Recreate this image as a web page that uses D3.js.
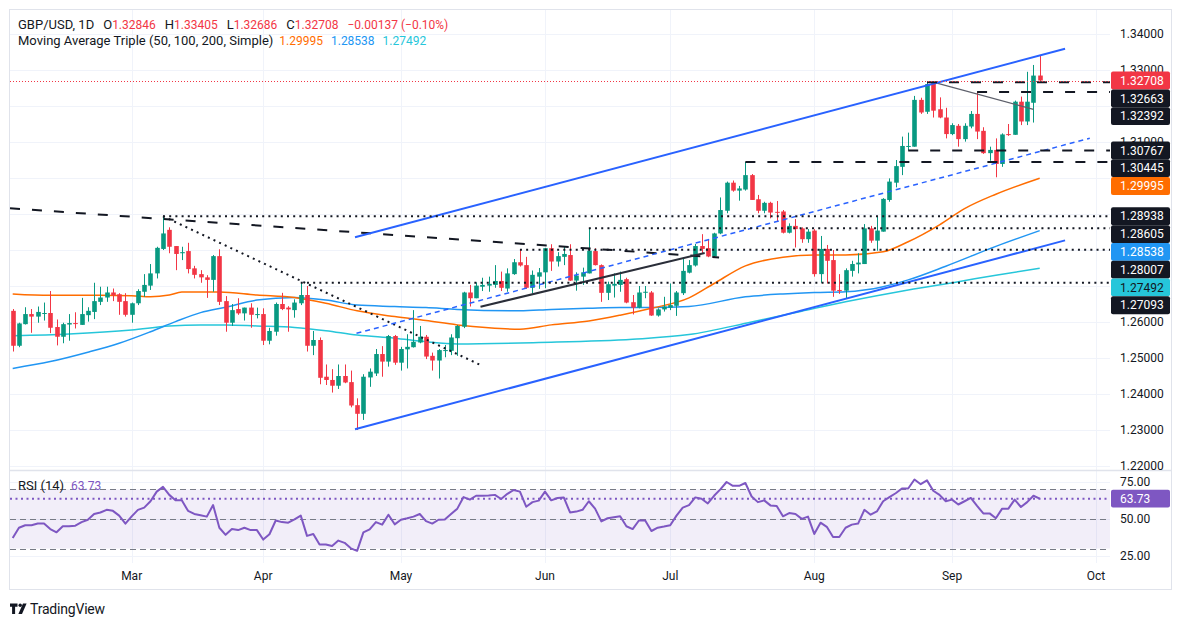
<!DOCTYPE html>
<html>
<head>
<meta charset="utf-8">
<script src="https://cdn.jsdelivr.net/npm/d3@7"></script>
<style>
  body { margin: 0; background: #fff; }
  svg { display: block; font-family: Roboto, "Noto Sans", sans-serif; }
</style>
</head>
<body>
<div id="chart"></div>
<script>
// GBP/USD daily candles (bar 1 = early Feb, bar 165 = last bar)
const opens = [
  1.2631,1.2534,1.2594,1.2622,1.2615,1.2623,1.2625,1.2586,1.2559,1.2593,
  1.2597,1.2592,1.2619,1.2628,1.2656,1.2668,1.2682,1.2677,1.2658,1.2620,
  1.2652,1.2684,1.2701,1.2735,1.2803,1.2856,1.2811,1.2791,1.2797,1.2749,
  1.2733,1.2724,1.2717,1.2783,1.2658,1.2598,1.2636,1.2624,1.2640,1.2620,
  1.2622,1.2548,1.2573,1.2650,1.2640,1.2633,1.2652,1.2675,1.2534,1.2550,
  1.2448,1.2439,1.2423,1.2450,1.2433,1.2369,1.2345,1.2446,1.2457,1.2511,
  1.2490,1.2561,1.2487,1.2524,1.2530,1.2543,1.2559,1.2506,1.2493,1.2520,
  1.2520,1.2555,1.2587,1.2682,1.2666,1.2698,1.2701,1.2703,1.2714,1.2693,
  1.2733,1.2766,1.2758,1.2695,1.2726,1.2738,1.2805,1.2768,1.2781,1.2786,
  1.2715,1.2726,1.2735,1.2797,1.2758,1.2681,1.2701,1.2703,1.2719,1.2655,
  1.2640,1.2682,1.2682,1.2618,1.2635,1.2640,1.2645,1.2680,1.2737,1.2757,
  1.2811,1.2805,1.2782,1.2846,1.2909,1.2987,1.2965,1.2968,1.3008,1.2941,
  1.2909,1.2931,1.2906,1.2907,1.2848,1.2867,1.2860,1.2830,1.2854,1.2733,
  1.2803,1.2772,1.2689,1.2687,1.2742,1.2760,1.2761,1.2860,1.2826,1.2851,
  1.2939,1.2987,1.3031,1.3087,1.3087,1.3217,1.3184,1.3265,1.3191,1.3168,
  1.3122,1.3145,1.3108,1.3143,1.3178,1.3131,1.3069,1.3078,1.3039,1.3122,
  1.3120,1.3212,1.3157,1.3209,1.32846
];
const highs = [
  1.2636,1.2598,1.2641,1.2636,1.2643,1.2654,1.2686,1.2607,1.2598,1.2622,
  1.2627,1.2667,1.2641,1.2709,1.2698,1.2698,1.2693,1.2680,1.2680,1.2654,
  1.2691,1.2733,1.2761,1.2809,1.28938,1.2863,1.2811,1.2809,1.2820,1.2756,
  1.2744,1.2730,1.2786,1.2802,1.2672,1.2650,1.2666,1.2640,1.2652,1.2640,
  1.2638,1.2584,1.2654,1.2681,1.2644,1.2663,1.27093,1.2700,1.2575,1.2557,
  1.2482,1.2469,1.2482,1.2482,1.2465,1.2388,1.2455,1.2471,1.2525,1.2533,
  1.2564,1.2564,1.2531,1.2566,1.2633,1.2589,1.2564,1.2515,1.2525,1.2536,
  1.2566,1.2592,1.2684,1.2703,1.2710,1.2723,1.2726,1.2758,1.2740,1.2749,
  1.2775,1.28007,1.2781,1.2743,1.2750,1.2806,1.2816,1.2794,1.2809,1.2816,
  1.2738,1.2751,1.28605,1.2805,1.2760,1.2712,1.2735,1.2740,1.2723,1.2675,
  1.2700,1.2700,1.2686,1.2638,1.2670,1.2707,1.2686,1.2777,1.2772,1.2817,
  1.2844,1.2828,1.2848,1.2946,1.2990,1.2993,1.2978,1.30445,1.3011,1.2953,
  1.2934,1.2934,1.2936,1.2911,1.2874,1.2886,1.2863,1.2858,1.2858,1.2839,
  1.2814,1.2800,1.2733,1.2749,1.2770,1.2791,1.2872,1.2867,1.2893,1.2944,
  1.2999,1.3050,1.3115,1.3126,1.3228,1.3223,1.32663,1.3266,1.3224,1.3195,
  1.3152,1.3150,1.3152,1.3186,1.32392,1.3141,1.3087,1.3110,1.3124,1.3150,
  1.3215,1.3226,1.3295,1.3314,1.33405
];
const lows = [
  1.2518,1.2530,1.2593,1.2570,1.2598,1.2604,1.2569,1.2535,1.2541,1.2548,
  1.2582,1.2592,1.2601,1.2608,1.2647,1.2656,1.2658,1.2620,1.2615,1.2598,
  1.2647,1.2670,1.2689,1.2721,1.2800,1.2791,1.2744,1.2772,1.2735,1.2721,
  1.2709,1.2667,1.2684,1.2647,1.2573,1.2589,1.2620,1.2604,1.2584,1.2610,
  1.2536,1.2538,1.2562,1.2633,1.2573,1.2612,1.2647,1.2518,1.2508,1.2427,
  1.2425,1.2404,1.2414,1.2430,1.2363,1.2300,1.2328,1.2420,1.2450,1.2448,
  1.2476,1.2481,1.2465,1.2471,1.2529,1.2541,1.2497,1.2465,1.2443,1.2502,
  1.2508,1.2506,1.2583,1.2643,1.2666,1.2686,1.2684,1.2695,1.2686,1.2684,
  1.2731,1.2754,1.2692,1.2680,1.2692,1.2694,1.2742,1.2754,1.2758,1.2714,
  1.2687,1.2703,1.2735,1.2757,1.2656,1.2661,1.2668,1.2684,1.2652,1.2621,
  1.2638,1.2666,1.2617,1.2615,1.2629,1.2633,1.2617,1.2675,1.2735,1.2754,
  1.2791,1.2780,1.2780,1.2844,1.2902,1.2962,1.2937,1.2965,1.2939,1.2902,
  1.2902,1.2888,1.2879,1.2846,1.2846,1.2807,1.2820,1.2820,1.2726,1.2709,
  1.2707,1.2670,1.2678,1.2666,1.2726,1.2735,1.2761,1.2820,1.2798,1.2851,
  1.2934,1.2974,1.3008,1.30767,1.3087,1.3178,1.3178,1.3168,1.3166,1.3110,
  1.3119,1.3087,1.3101,1.3138,1.3108,1.3067,1.3048,1.3002,1.3031,1.3117,
  1.3120,1.3147,1.3147,1.3154,1.32686
];
const closes = [
  1.2534,1.2596,1.2622,1.2615,1.2628,1.2625,1.2584,1.2559,1.2594,1.2597,
  1.2596,1.2622,1.2631,1.2658,1.2668,1.2682,1.2674,1.2656,1.2620,1.2652,
  1.2686,1.2703,1.2735,1.2806,1.2846,1.2809,1.2789,1.2794,1.2747,1.2731,
  1.2724,1.2717,1.2783,1.2656,1.2598,1.2633,1.2624,1.2640,1.2620,1.2622,
  1.2548,1.2575,1.2650,1.2636,1.2635,1.2654,1.2675,1.2534,1.2550,1.2445,
  1.2439,1.2423,1.2450,1.2432,1.2368,1.2345,1.2448,1.2462,1.2511,1.2490,
  1.2561,1.2487,1.2525,1.2531,1.2545,1.2559,1.2504,1.2493,1.2522,1.2522,
  1.2557,1.2589,1.2682,1.2666,1.2701,1.2703,1.2706,1.2714,1.2695,1.2735,
  1.2766,1.2757,1.2695,1.2731,1.2738,1.2805,1.2768,1.2783,1.2789,1.2715,
  1.2729,1.2738,1.2798,1.2758,1.2681,1.2705,1.2706,1.2717,1.2654,1.2640,
  1.2682,1.2684,1.2618,1.2635,1.2643,1.2647,1.2682,1.2742,1.2758,1.2811,
  1.2803,1.2782,1.2846,1.2911,1.2987,1.2965,1.2971,1.3008,1.2939,1.2909,
  1.2931,1.2904,1.2904,1.2848,1.2867,1.2858,1.2830,1.2851,1.2733,1.2803,
  1.2770,1.2687,1.2687,1.2744,1.2761,1.2765,1.2860,1.2826,1.2854,1.2942,
  1.2990,1.3033,1.3089,1.3089,1.3217,1.3182,1.3261,1.3187,1.3168,1.3122,
  1.3147,1.3108,1.3145,1.3178,1.3129,1.3069,1.3078,1.3039,1.3121,1.3120,
  1.3212,1.3157,1.3212,1.32845,1.32708
];

// RSI(14), one value per bar
const rsi = [
  37.1,44.1,45.8,45.8,46.9,46.9,43.2,41.0,45.1,45.1,
  45.5,47.9,49.5,53.4,54.4,56.2,55.5,52.3,46.9,51.8,
  56.2,57.7,62.0,68.5,71.7,66.3,62.6,62.6,55.5,53.4,
  52.5,51.6,59.4,44.1,39.3,43.2,42.5,44.1,42.5,42.5,
  36.1,39.7,49.0,47.9,47.5,49.7,52.3,38.6,39.9,32.8,
  32.8,31.7,35.4,33.9,30.2,28.5,41.0,43.0,47.9,46.2,
  52.9,46.4,49.5,50.5,51.6,53.4,48.6,46.9,49.5,49.7,
  53.4,57.0,64.8,63.1,65.7,65.7,65.9,66.3,63.5,67.0,
  69.6,68.5,58.3,61.4,62.4,68.5,62.6,64.2,64.6,54.4,
  55.0,56.2,62.0,57.0,48.4,50.5,51.2,51.8,45.1,43.2,
  49.0,49.0,41.9,44.1,44.9,45.8,52.3,57.7,59.4,64.6,
  63.7,60.5,65.7,70.0,75.0,72.4,72.4,74.3,65.2,61.4,
  62.6,59.2,58.8,51.8,54.0,53.4,50.1,51.6,39.9,47.5,
  44.7,37.8,37.8,44.1,46.2,46.9,56.2,52.9,55.1,62.0,
  64.8,67.4,70.6,70.6,76.7,73.5,76.1,69.1,66.3,62.0,
  63.1,59.8,62.0,64.2,58.8,53.8,53.8,50.5,57.0,57.0,
  63.1,58.1,61.4,65.7,63.73
];

// moving averages read at points: [bar, value]
const sma50 = [
  [1,1.2678],[7,1.2674],[15,1.2674],[20,1.2673],[23,1.2670],[26,1.2675],[28,1.2683],
  [34,1.2683],[40,1.2675],[46,1.2668],[51,1.2652],[56,1.2631],[62,1.2615],[67,1.2604],
  [72,1.2592],[77,1.2584],[82,1.2580],[87,1.2592],[93,1.2603],[98,1.2619],[103,1.2638],
  [109,1.2667],[113,1.2707],[118,1.2756],[124,1.2780],[129,1.2786],[134,1.2786],
  [140,1.2795],[144,1.2823],[149,1.2870],[153,1.2915],[158,1.2955],[165,1.29995]
];
const sma100 = [
  [1,1.2471],[7,1.2490],[13,1.2516],[18,1.2541],[23,1.2573],[27,1.2601],[31,1.2626],
  [35,1.2641],[40,1.2661],[46,1.2668],[51,1.2661],[56,1.2647],[62,1.2643],[67,1.2640],
  [72,1.2635],[82,1.2631],[87,1.2635],[93,1.2638],[98,1.2640],[103,1.2640],[109,1.2643],
  [118,1.2670],[124,1.2678],[129,1.2682],[134,1.2684],[140,1.2698],[144,1.2717],
  [150,1.2755],[158,1.2810],[165,1.28538]
];
const sma200 = [
  [1,1.2562],[10,1.2567],[20,1.2578],[26,1.2589],[31,1.2592],[35,1.2592],[40,1.2589],
  [46,1.2585],[51,1.2576],[56,1.2564],[62,1.2555],[67,1.2545],[72,1.2539],[85,1.2543],
  [100,1.2552],[109,1.2565],[119,1.2600],[127,1.2630],[134,1.2656],[144,1.2689],
  [152,1.2712],[158,1.2730],[165,1.27492]
];

const monthLabels = ["Mar", "Apr", "May", "Jun", "Jul", "Aug", "Sep", "Oct"];
const monthStarts = [20, 41, 63, 86, 106, 129, 151, 174];
const priceTicks = [1.22, 1.23, 1.24, 1.25, 1.26, 1.27, 1.28, 1.29, 1.30, 1.31, 1.32, 1.33, 1.34];
const rsiTicks = [75, 50, 25];

// drawings: [bar, price] end points
const channelUpper = [[55.66, 1.28352], [169.05, 1.33589]];
const channelLower = [[55.66, 1.23019], [169.05, 1.28267]];
const channelMid = [[55.9, 1.25685], [173.0, 1.31106]];
const dashedTrend = [[0.57, 1.29158], [113.8, 1.27792]];
const dottedTrend = [[25, 1.28938], [75.6, 1.24814]];
const risingTrend = [[75.7, 1.26425], [111.5, 1.27917]];
const thinTrend = [[148, 1.32663], [164, 1.31907]];
// horizontal levels: [price, first bar]
const dashedLevels = [[1.32663, 147], [1.32392, 155], [1.30767, 144], [1.30445, 118]];
const dottedLevels = [[1.28938, 25], [1.28605, 93], [1.28007, 82], [1.27093, 47]];

const W = 1183, H = 628;
const paneL = 10, paneR = 1110, mainT = 10, mainB = 470, rsiT = 471, rsiB = 563;
const up = "#089981", down = "#f23645", ink = "#131722";
const col50 = "#ff6d00", col100 = "#2196f3", col200 = "#26c6da", rsiCol = "#7e57c2";

const svg = d3.select("#chart").append("svg")
  .attr("width", W)
  .attr("height", H);

const x = d3.scaleLinear().domain([1, 165]).range([12.7, 1039.7]);
const y = d3.scaleLinear().domain([1.22, 1.34]).range([466, 34]);
const yR = d3.scaleLinear().domain([25, 75]).range([556, 482]);

const defs = svg.append("defs");
defs.append("clipPath").attr("id", "mainClip").append("rect")
  .attr("x", paneL).attr("y", mainT).attr("width", paneR - paneL).attr("height", mainB - mainT);
defs.append("clipPath").attr("id", "rsiClip").append("rect")
  .attr("x", paneL).attr("y", rsiT).attr("width", paneR - paneL).attr("height", rsiB - rsiT);
defs.append("clipPath").attr("id", "axisClip").append("rect")
  .attr("x", paneR).attr("y", mainT).attr("width", W - paneR).attr("height", mainB - mainT);

// grid
const grid = svg.append("g").attr("stroke", "#f0f3fa").attr("stroke-width", 1);
grid.selectAll("line.h").data(priceTicks).join("line")
  .attr("x1", paneL).attr("x2", paneR)
  .attr("y1", d => Math.round(y(d)) + 0.5).attr("y2", d => Math.round(y(d)) + 0.5);
grid.selectAll("line.r").data(rsiTicks).join("line")
  .attr("x1", paneL).attr("x2", paneR)
  .attr("y1", d => Math.round(yR(d)) + 0.5).attr("y2", d => Math.round(yR(d)) + 0.5);
grid.selectAll("line.v").data(monthStarts).join("line")
  .attr("x1", d => Math.round(x(d)) + 0.5).attr("x2", d => Math.round(x(d)) + 0.5)
  .attr("y1", mainT).attr("y2", rsiB);

// frame and pane separator
svg.append("rect")
  .attr("x", 9.5).attr("y", 9.5).attr("width", 1162).attr("height", 580)
  .attr("fill", "none").attr("stroke", "#e0e3eb");
svg.append("line")
  .attr("x1", paneL).attr("x2", 1172).attr("y1", mainB + 0.5).attr("y2", mainB + 0.5)
  .attr("stroke", "#e0e3eb").attr("stroke-width", 1.5);

const main = svg.append("g").attr("clip-path", "url(#mainClip)");

// moving averages (under the candles)
const maLine = d3.line().x(d => x(d[0])).y(d => y(d[1])).curve(d3.curveMonotoneX);
[[sma200, col200], [sma100, col100], [sma50, col50]].forEach(([pts, c]) => {
  main.append("path").attr("d", maLine(pts))
    .attr("fill", "none").attr("stroke", c).attr("stroke-width", 1.5);
});

// candles
const bars = d3.range(opens.length).map(k => ({
  i: k + 1, o: opens[k], h: highs[k], l: lows[k], c: closes[k]
}));
const candle = main.append("g").selectAll("g").data(bars).join("g")
  .attr("fill", d => d.c >= d.o ? up : down)
  .attr("stroke", d => d.c >= d.o ? up : down);
candle.append("line")
  .attr("x1", d => Math.round(x(d.i)) + 0.5).attr("x2", d => Math.round(x(d.i)) + 0.5)
  .attr("y1", d => y(d.h)).attr("y2", d => y(d.l))
  .attr("stroke-width", 1);
candle.append("rect")
  .attr("stroke", "none")
  .attr("x", d => Math.round(x(d.i)) - 1.8)
  .attr("width", 4.6)
  .attr("y", d => y(Math.max(d.o, d.c)))
  .attr("height", d => Math.max(1, Math.abs(y(d.o) - y(d.c))));

// drawings
const seg = (pts, stroke, width, dash) => main.append("line")
  .attr("x1", x(pts[0][0])).attr("y1", y(pts[0][1]))
  .attr("x2", x(pts[1][0])).attr("y2", y(pts[1][1]))
  .attr("stroke", stroke).attr("stroke-width", width)
  .attr("stroke-dasharray", dash || null);

seg(dashedTrend, ink, 2, "10,12");
seg(dottedTrend, ink, 2, "2,4.2");
seg(risingTrend, "#2a2e39", 2);
seg(thinTrend, "#5d606b", 1.2);
seg(channelMid, "#2962ff", 1.5, "5,4");
seg(channelUpper, "#2962ff", 2);
seg(channelLower, "#2962ff", 2);

main.selectAll("line.dl").data(dashedLevels).join("line")
  .attr("x1", d => x(d[1])).attr("x2", paneR)
  .attr("y1", d => y(d[0])).attr("y2", d => y(d[0]))
  .attr("stroke", ink).attr("stroke-width", 2).attr("stroke-dasharray", "10,12");
main.selectAll("line.tl").data(dottedLevels).join("line")
  .attr("x1", d => x(d[1])).attr("x2", paneR)
  .attr("y1", d => y(d[0])).attr("y2", d => y(d[0]))
  .attr("stroke", ink).attr("stroke-width", 2).attr("stroke-dasharray", "2,4.2");

// last price line
const last = closes[closes.length - 1];
main.append("line")
  .attr("x1", paneL).attr("x2", paneR)
  .attr("y1", Math.round(y(last)) + 0.5).attr("y2", Math.round(y(last)) + 0.5)
  .attr("stroke", down).attr("stroke-width", 1).attr("stroke-dasharray", "1,2");

// RSI pane
const rsiG = svg.append("g").attr("clip-path", "url(#rsiClip)");
rsiG.append("rect")
  .attr("x", paneL).attr("width", paneR - paneL)
  .attr("y", yR(70)).attr("height", yR(30) - yR(70))
  .attr("fill", "rgba(126,87,194,0.1)");
rsiG.selectAll("line.band").data([70, 50, 30]).join("line")
  .attr("x1", paneL).attr("x2", paneR)
  .attr("y1", d => Math.round(yR(d)) + 0.5).attr("y2", d => Math.round(yR(d)) + 0.5)
  .attr("stroke", "#787b86").attr("stroke-width", 1).attr("stroke-dasharray", "6,4");
const lastRsi = rsi[rsi.length - 1];
rsiG.append("line")
  .attr("x1", paneL).attr("x2", paneR)
  .attr("y1", yR(lastRsi)).attr("y2", yR(lastRsi))
  .attr("stroke", rsiCol).attr("stroke-width", 2).attr("stroke-dasharray", "2,3.5");
rsiG.append("path")
  .attr("d", d3.line().x((d, k) => x(k + 1)).y(d => yR(d))(rsi))
  .attr("fill", "none").attr("stroke", rsiCol).attr("stroke-width", 2)
  .attr("stroke-linejoin", "round");

// price scale labels, stacked so they don't overlap
const priceLabels = [
  { v: last, bg: down, fg: "#fff" },
  { v: dashedLevels[0][0], bg: ink, fg: "#fff" },
  { v: dashedLevels[1][0], bg: ink, fg: "#fff" },
  { v: dashedLevels[2][0], bg: ink, fg: "#fff" },
  { v: dashedLevels[3][0], bg: ink, fg: "#fff" },
  { v: sma50[sma50.length - 1][1], bg: col50, fg: "#fff" },
  { v: dottedLevels[0][0], bg: ink, fg: "#fff" },
  { v: dottedLevels[1][0], bg: ink, fg: "#fff" },
  { v: sma100[sma100.length - 1][1], bg: col100, fg: "#fff" },
  { v: dottedLevels[2][0], bg: ink, fg: "#fff" },
  { v: sma200[sma200.length - 1][1], bg: col200, fg: ink },
  { v: dottedLevels[3][0], bg: ink, fg: "#fff" }
].sort((a, b) => b.v - a.v);
const boxH = 17.8;
let prev = -Infinity;
priceLabels.forEach(d => {
  d.cy = Math.max(y(d.v), prev + boxH);
  prev = d.cy;
});
const covered = py => priceLabels.some(d => Math.abs(py - d.cy) <= boxH / 2);
// a tick label is dropped only when the boxes hide all of it
const visibleTicks = priceTicks.filter(t => !(covered(y(t) - 4) && covered(y(t) + 4)));

svg.append("g").attr("clip-path", "url(#axisClip)")
  .selectAll("text").data(visibleTicks).join("text")
  .attr("x", 1120).attr("y", d => y(d))
  .attr("dy", "0.35em")
  .attr("font-size", 12).attr("fill", ink)
  .text(d => d.toFixed(5));

const lab = svg.append("g").selectAll("g").data(priceLabels).join("g");
lab.append("rect")
  .attr("x", 1111).attr("width", 59)
  .attr("y", d => d.cy - boxH / 2).attr("height", boxH)
  .attr("rx", 2).attr("fill", d => d.bg);
lab.append("text")
  .attr("x", 1120).attr("y", d => d.cy).attr("dy", "0.35em")
  .attr("font-size", 12).attr("fill", d => d.fg)
  .text(d => d.v.toFixed(5));

// RSI scale
svg.append("g").selectAll("text").data(rsiTicks).join("text")
  .attr("x", 1120).attr("y", d => yR(d)).attr("dy", "0.35em")
  .attr("font-size", 12).attr("fill", ink)
  .text(d => d.toFixed(2));
svg.append("rect")
  .attr("x", 1111).attr("width", 59)
  .attr("y", yR(lastRsi) - boxH / 2).attr("height", boxH)
  .attr("rx", 2).attr("fill", rsiCol);
svg.append("text")
  .attr("x", 1120).attr("y", yR(lastRsi)).attr("dy", "0.35em")
  .attr("font-size", 12).attr("fill", "#fff")
  .text(lastRsi.toFixed(2));

// time axis
svg.append("g").selectAll("text").data(monthStarts).join("text")
  .attr("x", d => x(d)).attr("y", 580)
  .attr("text-anchor", "middle")
  .attr("font-size", 12).attr("fill", ink)
  .text((d, k) => monthLabels[k]);

// legends
const prevClose = closes[closes.length - 2];
const change = last - prevClose;
const pct = change / prevClose * 100;
const sign = v => (v < 0 ? "\u2212" : "+");
const head = svg.append("text").attr("x", 18).attr("y", 29)
  .attr("font-size", 13).attr("fill", ink);
head.append("tspan").text("GBP/USD, 1D");
[["O", opens], ["H", highs], ["L", lows], ["C", closes]].forEach(([k, arr]) => {
  head.append("tspan").attr("dx", 9).text(k);
  head.append("tspan").attr("fill", down).attr("font-size", 12)
    .text(arr[arr.length - 1].toFixed(5));
});
head.append("tspan").attr("dx", 9).attr("fill", down).attr("font-size", 12)
  .text(sign(change) + Math.abs(change).toFixed(5) + " (" + sign(pct) + Math.abs(pct).toFixed(2) + "%)");

const maHead = svg.append("text").attr("x", 18).attr("y", 45)
  .attr("font-size", 13).attr("fill", ink);
maHead.append("tspan").text("Moving Average Triple (50, 100, 200, Simple)");
[[sma50, col50, 6], [sma100, col100, 8], [sma200, col200, 8]].forEach(([pts, c, gap]) => {
  maHead.append("tspan").attr("dx", gap).attr("fill", c).attr("font-size", 12)
    .text(pts[pts.length - 1][1].toFixed(5));
});

const rsiHead = svg.append("text").attr("x", 18).attr("y", 489.5)
  .attr("font-size", 13).attr("fill", ink);
rsiHead.append("tspan").text("RSI (14)");
rsiHead.append("tspan").attr("dx", 7).attr("fill", rsiCol).attr("font-size", 12)
  .text(lastRsi.toFixed(2));

// TradingView mark
const logo = svg.append("g").attr("fill", ink);
logo.append("path").attr("d", "M10 603.5h7.5v3.2h-2.4v7.3h-3v-7.3h-2.1z");
logo.append("circle").attr("cx", 20.2).attr("cy", 605.2).attr("r", 1.7);
logo.append("path").attr("d", "M23 603.5h3.6l-4.6 10.5h-3.6z");
svg.append("text").attr("x", 30).attr("y", 614)
  .attr("font-size", 14).attr("fill", ink).attr("letter-spacing", -0.2)
  .text("TradingView");
</script>
</body>
</html>
